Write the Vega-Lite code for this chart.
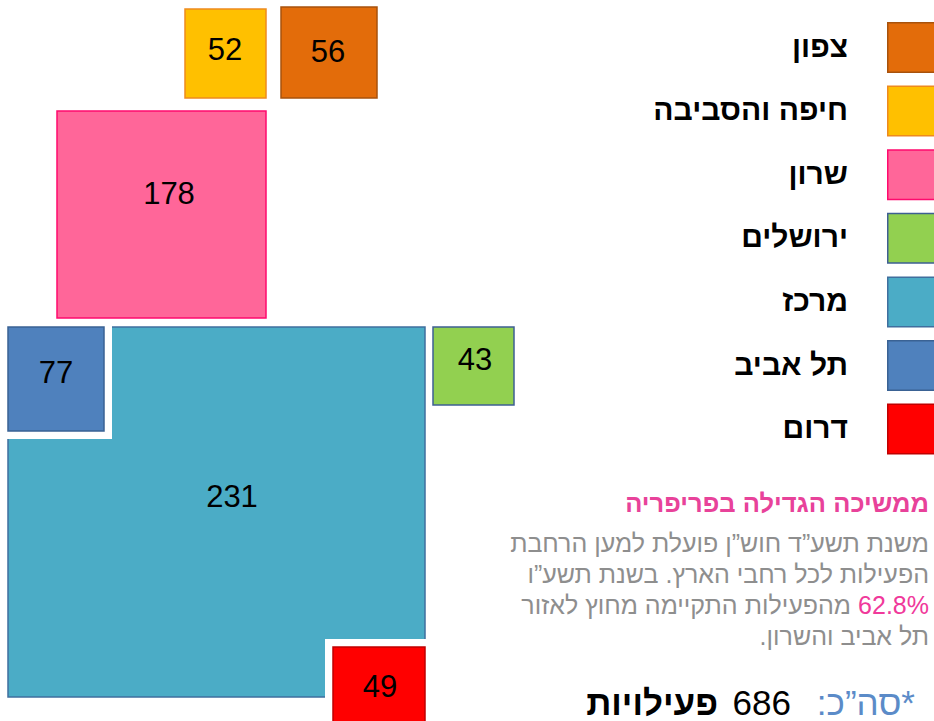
{
  "$schema": "https://vega.github.io/schema/vega-lite/v6.json",
  "width": 934,
  "height": 721,
  "padding": 0,
  "autosize": {"type": "none"},
  "background": "white",
  "config": {"view": {"stroke": null}},
  "datasets": {
    "regions": [
      {"region": "צפון", "value": 56, "x0": 281, "x1": 377, "y0": 7, "y1": 98, "tx": 328, "ty": 53},
      {"region": "חיפה והסביבה", "value": 52, "x0": 185, "x1": 266, "y0": 9, "y1": 98, "tx": 225, "ty": 51},
      {"region": "שרון", "value": 178, "x0": 57, "x1": 266, "y0": 111, "y1": 318, "tx": 169, "ty": 195},
      {"region": "ירושלים", "value": 43, "x0": 433, "x1": 514, "y0": 327, "y1": 405, "tx": 475, "ty": 361},
      {"region": "מרכז", "value": 231, "x0": 8, "x1": 425, "y0": 327, "y1": 697, "tx": 232, "ty": 498},
      {"region": "תל אביב", "value": 77, "x0": 8, "x1": 104, "y0": 327, "y1": 431, "tx": 56, "ty": 374},
      {"region": "דרום", "value": 49, "x0": 333, "x1": 425, "y0": 647, "y1": 730, "tx": 380, "ty": 688}
    ],
    "notes": [
      {"kind": "title", "text": "ממשיכה הגדילה בפריפריה", "x": 929, "y": 512},
      {"kind": "body", "text": "משנת תשע”ד חוש”ן פועלת למען הרחבת", "x": 929, "y": 552},
      {"kind": "body", "text": "הפעילות לכל רחבי הארץ. בשנת תשע”ו", "x": 929, "y": 583},
      {"kind": "accent", "text": "62.8%", "x": 929, "y": 614},
      {"kind": "body", "text": "מהפעילות התקיימה מחוץ לאזור", "x": 851, "y": 614},
      {"kind": "body", "text": "תל אביב והשרון.\u200f", "x": 929, "y": 645},
      {"kind": "label", "text": "\u200f*סה”כ:\u200f", "x": 915, "y": 715},
      {"kind": "number", "text": "686", "x": 791, "y": 715},
      {"kind": "bold", "text": "פעילויות", "x": 718, "y": 715}
    ]
  },
  "layer": [
    {
      "data": {"name": "regions"},
      "transform": [{"filter": "datum.region === 'מרכז'"}],
      "mark": {"type": "rect", "strokeWidth": 1.5},
      "encoding": {
        "x": {"field": "x0", "type": "quantitative", "scale": {"domain": [0, 934], "nice": false, "zero": false}, "axis": null},
        "x2": {"field": "x1"},
        "y": {"field": "y0", "type": "quantitative", "scale": {"domain": [0, 721], "nice": false, "zero": false, "reverse": true}, "axis": null},
        "y2": {"field": "y1"},
        "fill": {
          "field": "region", "type": "nominal",
          "scale": {"domain": ["צפון", "חיפה והסביבה", "שרון", "ירושלים", "מרכז", "תל אביב", "דרום"], "range": ["#E36C0A", "#FFC000", "#FF6699", "#92D050", "#4BACC6", "#4F81BD", "#FF0000"]},
          "legend": {"title": null, "orient": "none", "legendX": 887, "legendY": 22, "symbolType": "square", "symbolSize": 2450, "symbolStrokeWidth": 1.5, "symbolOpacity": 1, "rowPadding": 6.6, "labelAlign": "right", "labelOffset": -90, "labelFont": "Liberation Sans", "labelFontSize": 30, "labelFontWeight": "bold", "labelColor": "#000000", "labelLimit": 400, "padding": 0}
        },
        "stroke": {
          "field": "region", "type": "nominal",
          "scale": {"domain": ["צפון", "חיפה והסביבה", "שרון", "ירושלים", "מרכז", "תל אביב", "דרום"], "range": ["#A8520C", "#EE8A1E", "#FF0A6E", "#3E5F92", "#3F6F9E", "#3A6294", "#C00000"]},
          "legend": {"title": null, "orient": "none", "legendX": 887, "legendY": 22, "symbolType": "square", "symbolSize": 2450, "symbolStrokeWidth": 1.5, "symbolOpacity": 1, "rowPadding": 6.6, "labelAlign": "right", "labelOffset": -90, "labelFont": "Liberation Sans", "labelFontSize": 30, "labelFontWeight": "bold", "labelColor": "#000000", "labelLimit": 400, "padding": 0}
        }
      }
    },
    {
      "data": {"name": "regions"},
      "transform": [{"filter": "datum.region === 'תל אביב' || datum.region === 'דרום'"}],
      "mark": {"type": "rect", "fill": "white", "stroke": "white", "strokeWidth": 16},
      "encoding": {
        "x": {"field": "x0", "type": "quantitative"},
        "x2": {"field": "x1"},
        "y": {"field": "y0", "type": "quantitative"},
        "y2": {"field": "y1"}
      }
    },
    {
      "data": {"name": "regions"},
      "transform": [{"filter": "datum.region !== 'מרכז'"}],
      "mark": {"type": "rect", "strokeWidth": 1.5},
      "encoding": {
        "x": {"field": "x0", "type": "quantitative"},
        "x2": {"field": "x1"},
        "y": {"field": "y0", "type": "quantitative"},
        "y2": {"field": "y1"},
        "fill": {"field": "region", "type": "nominal",
          "legend": {"title": null, "orient": "none", "legendX": 887, "legendY": 22, "symbolType": "square", "symbolSize": 2450, "symbolStrokeWidth": 1.5, "symbolOpacity": 1, "rowPadding": 6.6, "labelAlign": "right", "labelOffset": -90, "labelFont": "Liberation Sans", "labelFontSize": 30, "labelFontWeight": "bold", "labelColor": "#000000", "labelLimit": 400, "padding": 0}},
        "stroke": {"field": "region", "type": "nominal",
          "legend": {"title": null, "orient": "none", "legendX": 887, "legendY": 22, "symbolType": "square", "symbolSize": 2450, "symbolStrokeWidth": 1.5, "symbolOpacity": 1, "rowPadding": 6.6, "labelAlign": "right", "labelOffset": -90, "labelFont": "Liberation Sans", "labelFontSize": 30, "labelFontWeight": "bold", "labelColor": "#000000", "labelLimit": 400, "padding": 0}}
      }
    },
    {
      "data": {"name": "regions"},
      "mark": {"type": "text", "align": "center", "baseline": "middle", "font": "Liberation Sans", "fontSize": 31, "color": "#000000"},
      "encoding": {
        "x": {"field": "tx", "type": "quantitative"},
        "y": {"field": "ty", "type": "quantitative"},
        "text": {"field": "value", "type": "quantitative"}
      }
    },
    {
      "data": {"name": "notes"},
      "transform": [{"filter": "datum.kind === 'title'"}],
      "mark": {"type": "text", "align": "right", "baseline": "alphabetic", "font": "Liberation Sans", "fontSize": 25.5, "fontWeight": "bold", "color": "#E8429A"},
      "encoding": {"x": {"field": "x", "type": "quantitative"}, "y": {"field": "y", "type": "quantitative"}, "text": {"field": "text"}}
    },
    {
      "data": {"name": "notes"},
      "transform": [{"filter": "datum.kind === 'body'"}],
      "mark": {"type": "text", "align": "right", "baseline": "alphabetic", "font": "Liberation Sans", "fontSize": 25, "color": "#8E8E8E"},
      "encoding": {"x": {"field": "x", "type": "quantitative"}, "y": {"field": "y", "type": "quantitative"}, "text": {"field": "text"}}
    },
    {
      "data": {"name": "notes"},
      "transform": [{"filter": "datum.kind === 'accent'"}],
      "mark": {"type": "text", "align": "right", "baseline": "alphabetic", "font": "Liberation Sans", "fontSize": 25, "color": "#F0399B"},
      "encoding": {"x": {"field": "x", "type": "quantitative"}, "y": {"field": "y", "type": "quantitative"}, "text": {"field": "text"}}
    },
    {
      "data": {"name": "notes"},
      "transform": [{"filter": "datum.kind === 'label'"}],
      "mark": {"type": "text", "align": "right", "baseline": "alphabetic", "font": "Liberation Sans", "fontSize": 35, "color": "#5B8BC8"},
      "encoding": {"x": {"field": "x", "type": "quantitative"}, "y": {"field": "y", "type": "quantitative"}, "text": {"field": "text"}}
    },
    {
      "data": {"name": "notes"},
      "transform": [{"filter": "datum.kind === 'number'"}],
      "mark": {"type": "text", "align": "right", "baseline": "alphabetic", "font": "Liberation Sans", "fontSize": 35, "color": "#000000"},
      "encoding": {"x": {"field": "x", "type": "quantitative"}, "y": {"field": "y", "type": "quantitative"}, "text": {"field": "text"}}
    },
    {
      "data": {"name": "notes"},
      "transform": [{"filter": "datum.kind === 'bold'"}],
      "mark": {"type": "text", "align": "right", "baseline": "alphabetic", "font": "Liberation Sans", "fontSize": 35, "fontWeight": "bold", "color": "#000000"},
      "encoding": {"x": {"field": "x", "type": "quantitative"}, "y": {"field": "y", "type": "quantitative"}, "text": {"field": "text"}}
    }
  ]
}
